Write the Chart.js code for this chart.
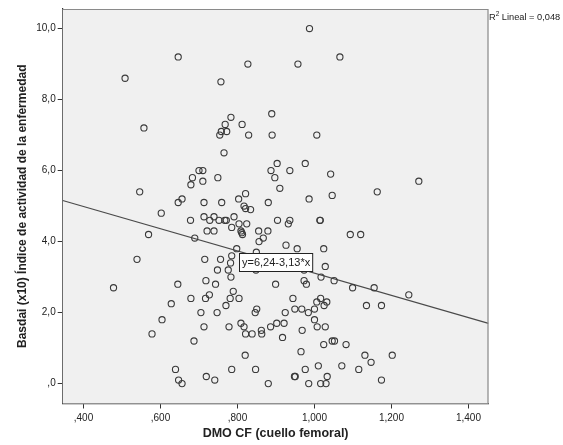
<!DOCTYPE html>
<html>
<head>
<meta charset="utf-8">
<script src="https://cdn.jsdelivr.net/npm/chart.js@4.4.1/dist/chart.umd.min.js"></script>
<style>
  html, body { margin: 0; padding: 0; background: #fff; }
  #wrap { width: 563px; height: 445px; }
</style>
</head>
<body>
<div id="wrap"><canvas id="scatter" width="563" height="445"></canvas></div>
<script>
// DMO CF (cuello femoral) per patient
const dmoCF = [
  0.987, 0.646, 0.827, 0.957, 1.066, 0.508, 0.757, 0.889, 0.783, 0.557,
  0.768, 0.812, 0.758, 0.772, 0.754, 0.829, 0.890, 1.006, 0.765, 0.903,
  0.976, 0.700, 0.710, 0.887, 0.936, 1.042, 0.683, 0.749, 0.897, 0.710,
  0.679, 1.271, 0.910, 0.546, 0.821, 1.163, 1.046, 0.656, 0.803, 0.986,
  0.646, 0.713, 0.759, 0.880, 0.817, 0.821, 0.834, 0.602, 0.713, 0.739,
  0.791, 0.678, 0.728, 0.752, 0.767, 0.771, 0.904, 0.936, 0.932, 1.014,
  1.015, 0.804, 0.824, 0.785, 0.721, 0.739, 0.809, 0.811, 0.813, 0.855,
  0.879, 0.569, 1.093, 1.120, 0.689, 0.867, 0.856, 0.926, 0.955, 0.798,
  1.024, 0.849, 0.785, 0.539, 0.715, 0.756, 0.782, 1.028, 0.748, 0.776,
  0.783, 0.848, 0.973, 0.973, 0.979, 1.017, 1.051, 1.099, 1.155, 1.245,
  0.718, 0.743, 0.789, 0.727, 0.717, 0.781, 0.804, 0.770, 0.705, 0.747,
  0.850, 0.846, 0.899, 0.944, 1.016, 1.006, 1.032, 1.025, 1.000, 0.949,
  0.967, 0.984, 0.924, 1.135, 1.174, 0.478, 0.645, 0.679, 0.628, 0.604,
  0.578, 0.687, 0.713, 0.778, 0.809, 0.817, 0.821, 0.838, 0.862, 0.863,
  0.886, 0.902, 0.921, 0.917, 0.968, 1.000, 1.007, 1.028, 0.820, 0.965,
  1.024, 1.046, 1.052, 1.082, 1.131, 1.202, 1.147, 0.785, 0.847, 0.639,
  0.647, 0.656, 0.719, 0.741, 0.880, 0.948, 0.950, 0.976, 1.010, 1.033,
  1.071, 1.115, 0.985, 1.016, 1.030, 1.174
];

// Basdai (x10) for the same patients
const basdai = [
  10.0, 9.2, 9.0, 9.0, 9.2, 8.6, 8.5, 7.6, 7.5, 7.2,
  7.3, 7.3, 7.1, 7.1, 7.0, 7.0, 7.0, 7.0, 6.5, 6.2,
  6.2, 6.0, 6.0, 6.0, 6.0, 5.9, 5.8, 5.8, 5.8, 5.7,
  5.6, 5.7, 5.5, 5.4, 5.35, 5.4, 5.3, 5.2, 5.2, 5.2,
  5.1, 5.1, 5.1, 5.1, 5.0, 4.93, 4.9, 4.8, 4.7, 4.7,
  4.7, 4.6, 4.6, 4.6, 4.6, 4.6, 4.6, 4.6, 4.5, 4.6,
  4.6, 4.5, 4.5, 4.4, 4.3, 4.3, 4.3, 4.25, 4.2, 4.3,
  4.3, 4.2, 4.2, 4.2, 4.1, 4.1, 4.0, 3.9, 3.8, 3.8,
  3.8, 3.7, 3.6, 3.5, 3.5, 3.5, 3.4, 3.3, 3.2, 3.2,
  3.0, 3.2, 3.2, 2.9, 2.8, 3.0, 2.9, 2.7, 2.7, 2.5,
  2.9, 2.8, 2.6, 2.5, 2.4, 2.4, 2.4, 2.2, 2.0, 2.0,
  2.1, 2.0, 2.8, 2.4, 2.4, 2.3, 2.3, 2.2, 2.1, 2.1,
  2.1, 2.0, 2.0, 2.2, 2.2, 2.7, 2.8, 2.4, 2.25, 1.8,
  1.4, 1.2, 1.6, 1.6, 1.7, 1.6, 1.4, 1.4, 1.5, 1.4,
  1.6, 1.7, 1.7, 1.3, 1.5, 1.8, 1.6, 1.6, 0.8, 0.9,
  1.1, 1.2, 1.2, 1.1, 0.8, 0.8, 0.6, 0.4, 0.4, 0.4,
  0.1, 0.0, 0.2, 0.1, 0.0, 0.2, 0.2, 0.4, 0.5, 0.2,
  0.5, 0.4, 0.0, 0.0, 0.0, 0.1
];

const xTicks = [0.4, 0.6, 0.8, 1.0, 1.2, 1.4];
const yTicks = [0, 2, 4, 6, 8, 10];
const xRange = [0.346, 1.452];
const yRange = [-0.56, 10.55];

// fitted line y = a + b*x and its r squared
const fitIntercept = 6.24;
const fitSlope = -3.13;
const rSquared = 0.048;

const FONT = '"Liberation Sans", Arial, sans-serif';

const fmtComma = (v, digits) => {
  let s = v.toFixed(digits).replace('.', ',');
  if (s.startsWith('0,')) s = s.slice(1);
  return s;
};

const points = dmoCF.map((x, i) => ({ x, y: basdai[i] }));
const fitLine = xRange.map(x => ({ x, y: fitIntercept + fitSlope * x }));

const plotFrame = {
  id: 'plotFrame',
  beforeDatasetsDraw(chart) {
    const { ctx, chartArea: a } = chart;
    ctx.save();
    ctx.fillStyle = '#f0f0f0';
    ctx.fillRect(a.left, a.top, a.right - a.left, a.bottom - a.top);
    ctx.restore();
  },
  afterDraw(chart) {
    const { ctx, chartArea: a, width } = chart;
    ctx.save();
    ctx.strokeStyle = '#8a8a8a';
    ctx.lineWidth = 1.2;
    ctx.beginPath();
    ctx.moveTo(a.left, a.top + 0.5);
    ctx.lineTo(a.right - 0.5, a.top + 0.5);
    ctx.lineTo(a.right - 0.5, a.bottom);
    ctx.stroke();

    // equation label on the fit line
    const xs = chart.scales.x, ys = chart.scales.y;
    const text = 'y=' + fitIntercept.toFixed(2).replace('.', ',') + '-' +
      Math.abs(fitSlope).toFixed(2).replace('.', ',') + '*x';
    ctx.font = '11px ' + FONT;
    const w = ctx.measureText(text).width + 5;
    const h = 18;
    const bx = Math.round(xs.getPixelForValue(0.804)) + 0.5;
    const by = Math.round(ys.getPixelForValue(3.43) - h / 2) + 0.5;
    ctx.fillStyle = '#fff';
    ctx.fillRect(bx, by, w, h);
    ctx.strokeStyle = '#222';
    ctx.lineWidth = 1;
    ctx.strokeRect(bx, by, w, h);
    ctx.fillStyle = '#222';
    ctx.textBaseline = 'middle';
    ctx.textAlign = 'left';
    ctx.fillText(text, bx + 2.5, by + h / 2 + 0.5);

    // r squared note at the top right, sized to fit the margin
    const rest = ' Lineal = ' + rSquared.toFixed(3).replace('.', ',');
    const startX = a.right + 0.5;
    const room = width - startX - 1;
    let size = 10;
    const widthAt = s => {
      ctx.font = s + 'px ' + FONT;
      let t = ctx.measureText('R').width + ctx.measureText(rest).width;
      ctx.font = (s * 0.7) + 'px ' + FONT;
      return t + ctx.measureText('2').width;
    };
    while (size > 7 && widthAt(size) > room) size -= 0.25;
    let tx = startX;
    const ty = a.top + 11;
    ctx.textBaseline = 'alphabetic';
    ctx.font = size + 'px ' + FONT;
    ctx.fillText('R', tx, ty);
    tx += ctx.measureText('R').width;
    ctx.font = (size * 0.7) + 'px ' + FONT;
    ctx.fillText('2', tx, ty - 4);
    tx += ctx.measureText('2').width;
    ctx.font = size + 'px ' + FONT;
    ctx.fillText(rest, tx, ty);
    ctx.restore();
  }
};

new Chart(document.getElementById('scatter'), {
  type: 'scatter',
  data: {
    datasets: [
      {
        type: 'line',
        data: fitLine,
        borderColor: '#4a4a4a',
        borderWidth: 1.2,
        pointRadius: 0,
        fill: false,
        order: 2
      },
      {
        data: points,
        pointRadius: 3.1,
        pointHoverRadius: 3.1,
        borderWidth: 1.1,
        pointBorderColor: '#3a3a3a',
        pointBackgroundColor: 'rgba(0,0,0,0)',
        order: 1
      }
    ]
  },
  options: {
    responsive: false,
    devicePixelRatio: 1,
    animation: false,
    layout: { padding: { top: 9, right: 74.5, bottom: 0, left: 0 } },
    plugins: { legend: { display: false }, tooltip: { enabled: false } },
    scales: {
      x: {
        type: 'linear',
        min: xRange[0],
        max: xRange[1],
        afterBuildTicks: s => { s.ticks = xTicks.map(value => ({ value })); },
        afterFit: s => { s.height = 41.5; },
        grid: { drawOnChartArea: false, drawTicks: true, tickLength: 5, color: '#333' },
        border: { display: true, color: '#333', width: 1.2 },
        ticks: {
          padding: 4,
          color: '#222',
          font: { family: FONT, size: 10 },
          callback: v => fmtComma(v, 3)
        },
        title: {
          display: true,
          text: 'DMO CF (cuello femoral)',
          color: '#222',
          font: { family: FONT, size: 12.5, weight: 'bold' },
          padding: { top: 0, bottom: 3.5 }
        }
      },
      y: {
        type: 'linear',
        min: yRange[0],
        max: yRange[1],
        afterBuildTicks: s => { s.ticks = yTicks.map(value => ({ value })); },
        afterFit: s => { s.width = 62.7; },
        grid: { drawOnChartArea: false, drawTicks: true, tickLength: 5, color: '#333' },
        border: { display: true, color: '#333', width: 1.2 },
        ticks: {
          padding: 2,
          color: '#222',
          font: { family: FONT, size: 10 },
          callback: v => fmtComma(v, 1)
        },
        title: {
          display: true,
          text: 'Basdai (x10) Índice de actividad de la enfermedad',
          color: '#222',
          font: { family: FONT, size: 12, weight: 'bold' },
          padding: { top: 15, bottom: 0 }
        }
      }
    }
  },
  plugins: [plotFrame]
});
</script>
</body>
</html>
